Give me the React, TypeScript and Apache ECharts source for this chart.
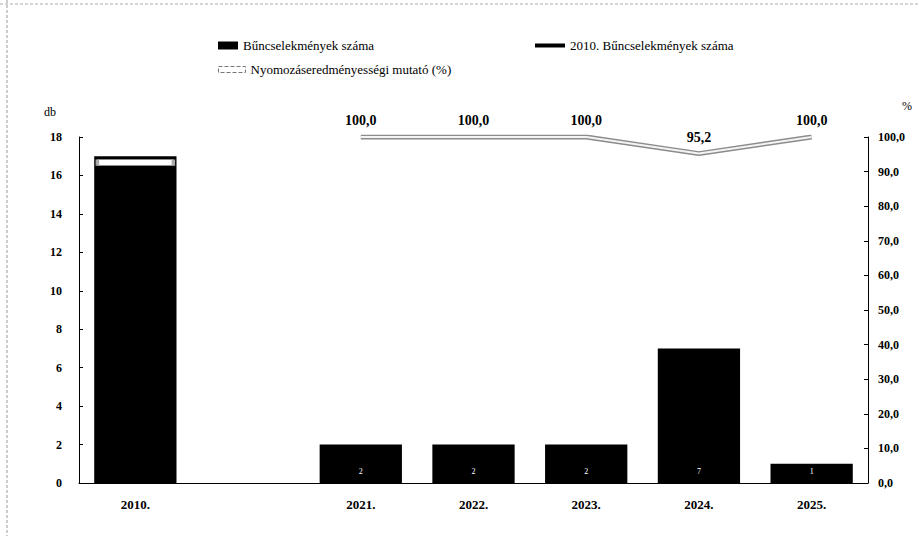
import React, { useEffect, useRef } from "react";
import * as echarts from "echarts";

const categories = ["2010.", "", "2021.", "2022.", "2023.", "2024.", "2025."];
const crimes2010 = [17, null, null, null, null, null, null];
const crimes = [null, null, 2, 2, 2, 7, 1];
const effectiveness = [92.6, null, 100.0, 100.0, 100.0, 95.2, 100.0];
const leftTicks = { min: 0, max: 18, interval: 2 };
const rightTicks = { min: 0, max: 100, interval: 10 };

const SERIF = "Liberation Serif";
const NAME_BAR = "Bűncselekmények száma";
const NAME_2010 = "2010. Bűncselekmények száma";
const NAME_LINE = "Nyomozáseredményességi mutató (%)";

const fmt = (v: number) => v.toFixed(1).replace(".", ",");

export default function App() {
  const ref = useRef<HTMLDivElement>(null);
  useEffect(() => {
    document.body.style.margin = "0";
    if (!ref.current) return;
    const chart = echarts.init(ref.current, null, { renderer: "svg" });
    const bandData = effectiveness.map((v, i) =>
      i === 0 && v != null
        ? {
            value: v,
            symbol: "rect",
            symbolSize: [76, 6],
            itemStyle: { color: "#ffffff", borderColor: "#aaa", borderWidth: 1 },
          }
        : v
    );
    const legendText = { fontFamily: SERIF, fontSize: 13, color: "#000" };
    chart.setOption({
      animation: false,
      backgroundColor: "#ffffff",
      textStyle: { fontFamily: SERIF },
      legend: [
        {
          data: [{ name: NAME_BAR, icon: "rect" }],
          left: 213,
          top: 34,
          itemWidth: 20,
          itemHeight: 8,
          selectedMode: false,
          textStyle: legendText,
        },
        {
          data: [{ name: NAME_2010, icon: "rect" }],
          left: 530,
          top: 34,
          itemWidth: 30,
          itemHeight: 4,
          selectedMode: false,
          textStyle: legendText,
        },
        {
          data: [
            {
              name: NAME_LINE,
              icon: "rect",
              itemStyle: { color: "#ffffff", borderColor: "#777", borderWidth: 1, borderType: "dashed" },
            },
          ],
          left: 213,
          top: 58,
          itemWidth: 27,
          itemHeight: 6,
          selectedMode: false,
          textStyle: legendText,
        },
      ],
      grid: { left: 79, right: 51, top: 137, bottom: 53 },
      xAxis: {
        type: "category",
        data: categories,
        axisTick: { show: false },
        axisLine: { lineStyle: { color: "#000", width: 1 } },
        axisLabel: { fontFamily: SERIF, fontWeight: "bold", fontSize: 13, color: "#000", margin: 15 },
      },
      yAxis: [
        {
          type: "value",
          min: leftTicks.min,
          max: leftTicks.max,
          interval: leftTicks.interval,
          splitLine: { show: false },
          axisLine: { show: true, lineStyle: { color: "#000", width: 1 } },
          axisTick: { show: true, inside: true, length: 4, lineStyle: { color: "#000" } },
          axisLabel: { fontFamily: SERIF, fontWeight: "bold", fontSize: 12, color: "#000", margin: 17 },
        },
        {
          type: "value",
          min: rightTicks.min,
          max: rightTicks.max,
          interval: rightTicks.interval,
          position: "right",
          splitLine: { show: false },
          axisLine: { show: true, lineStyle: { color: "#000", width: 1 } },
          axisTick: { show: true, inside: true, length: 4, lineStyle: { color: "#000" } },
          axisLabel: {
            fontFamily: SERIF,
            fontWeight: "bold",
            fontSize: 12,
            color: "#000",
            margin: 10,
            formatter: (v: number) => fmt(v),
          },
        },
      ],
      series: [
        {
          name: NAME_2010,
          type: "bar",
          stack: "b",
          data: crimes2010,
          barCategoryGap: "27%",
          itemStyle: { color: "#000" },
        },
        {
          name: NAME_BAR,
          type: "bar",
          stack: "b",
          data: crimes,
          barCategoryGap: "27%",
          itemStyle: { color: "#000" },
          label: {
            show: true,
            position: "insideBottom",
            distance: 8,
            color: "#fff",
            fontSize: 8,
            fontFamily: SERIF,
          },
        },
        {
          name: NAME_LINE,
          type: "line",
          yAxisIndex: 1,
          data: bandData,
          symbol: "none",
          showSymbol: true,
          connectNulls: false,
          lineStyle: { color: "#8c8c8c", width: 5 },
          itemStyle: { color: "#8c8c8c" },
          z: 3,
        },
        {
          name: NAME_LINE,
          type: "line",
          yAxisIndex: 1,
          data: effectiveness.map((v, i) => (i === 0 ? null : v)),
          symbol: "circle",
          symbolSize: 1,
          showSymbol: true,
          connectNulls: false,
          lineStyle: { color: "#f4f4f4", width: 2 },
          itemStyle: { color: "rgba(0,0,0,0)" },
          z: 4,
          label: {
            show: true,
            position: "top",
            distance: 9,
            fontFamily: SERIF,
            fontWeight: "bold",
            fontSize: 14,
            color: "#000",
            formatter: (p: any) => (p.value == null ? "" : fmt(p.value)),
          },
        },
      ],
      graphic: [
        {
          type: "text",
          left: 44,
          top: 106,
          style: { text: "db", fontFamily: SERIF, fontSize: 12, fill: "#000" },
        },
        {
          type: "text",
          left: 902,
          top: 100,
          style: { text: "%", fontFamily: SERIF, fontSize: 12, fill: "#000" },
        },
        {
          type: "line",
          shape: { x1: 7, y1: 0, x2: 7, y2: 536 },
          style: { stroke: "#999", lineWidth: 1, lineDash: [3, 2] },
        },
        {
          type: "line",
          shape: { x1: 0, y1: 4, x2: 919, y2: 4 },
          style: { stroke: "#aaa", lineWidth: 1, lineDash: [3, 2] },
        },
      ],
    });
    return () => chart.dispose();
  }, []);
  return <div ref={ref} style={{ width: 919, height: 536 }} />;
}
